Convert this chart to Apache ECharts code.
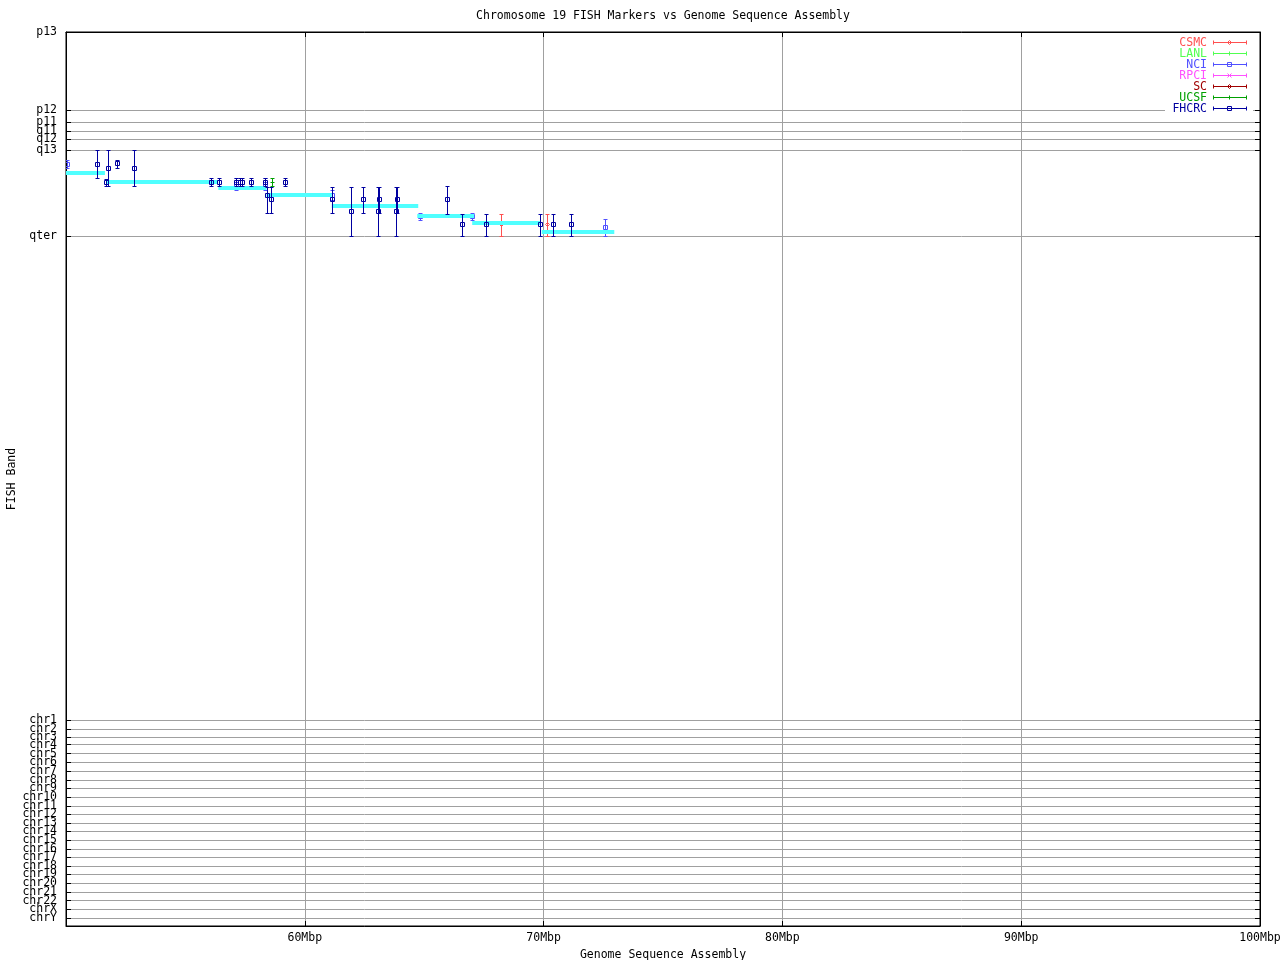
<!DOCTYPE html>
<html>
<head>
<meta charset="utf-8">
<script src="https://cdn.jsdelivr.net/npm/echarts@6/dist/echarts.min.js"></script>
<style>html,body{margin:0;padding:0;background:#fff}#chart{width:1280px;height:960px}</style>
</head>
<body>
<div id="chart"></div>
<script>
// ---------- data ----------
const titleText = 'Chromosome 19 FISH Markers vs Genome Sequence Assembly';
const xTickValues = [50, 60, 70, 80, 90, 100]; // Mbp
// FISH band axis: positions (arbitrary band units, 0 = p13 at top)
const bandLabels = ['p13','p12','p11','q11','q12','q13','qter',
  'chr1','chr2','chr3','chr4','chr5','chr6','chr7','chr8','chr9','chr10','chr11','chr12',
  'chr13','chr14','chr15','chr16','chr17','chr18','chr19','chr20','chr21','chr22','chrX','chrY'];
const bandPositions = [0,78,90,99,107,118,204,
  688.3,697.3,705,712.7,721.7,730.3,739,748.3,756.3,765,774,782.3,
  791.3,799.3,808.3,817,825,834,842.3,851.3,860.3,868.7,877.3,886];
const bandAxisMax = 894;

// sequence-assembly band segments (cyan)
const segStart = [50.0, 51.70, 56.38, 58.40, 61.13, 64.71, 67.01, 69.92];
const segEnd   = [51.63, 56.37, 58.40, 61.13, 64.75, 67.09, 69.85, 72.96];
const segBand  = [140.7, 149.7, 156, 162.7, 174, 184, 191, 200];

const institutions = ['CSMC','LANL','NCI','RPCI','SC','UCSF','FHCRC'];
const instColors   = ['#ff5050','#50ff50','#5050ff','#ff50ff','#a00000','#00a000','#0000a0'];
const instMarkers  = ['diamond','plus','square','cross','diamond','plus','square'];

// marker data per lab: position (Mbp), band, band low, band high
const csmcPos  = [68.23, 70.15];
const csmcBand = [192.3, 192.3];
const csmcLow  = [181.7, 181.7];
const csmcHigh = [204, 204];

const lanlPos = [], lanlBand = [], lanlLow = [], lanlHigh = [];

const nciPos  = [50.05, 57.12, 58.35, 61.15, 64.84, 66.99, 72.57];
const nciBand = [131.7, 152, 152, 163, 184.3, 184.3, 195];
const nciLow  = [127.7, 146.3, 146.3, 158, 181, 181, 187.3];
const nciHigh = [135.7, 158, 158, 168, 187.7, 187.7, 203.7];

const rpciPos = [], rpciBand = [], rpciLow = [], rpciHigh = [];
const scPos = [], scBand = [], scLow = [], scHigh = [];

const ucsfPos  = [58.64];
const ucsfBand = [149.7];
const ucsfLow  = [146.3];
const ucsfHigh = [153.7];

const fhcrcPos  = [51.31, 51.77, 51.69, 52.12, 52.86, 56.08, 56.42, 57.12, 57.27, 57.35, 57.76, 58.33, 59.18,
  58.43, 58.60, 61.15, 61.95, 62.45, 63.09, 63.07, 63.85, 63.82, 65.97, 66.60, 67.60, 69.86, 70.40, 71.16];
const fhcrcBand = [132, 136, 149.7, 131, 136, 149.7, 149.7, 149.7, 149.7, 149.7, 149.7, 149.7, 149.7,
  163.3, 167.3, 167, 179, 167, 167, 179, 167, 179, 167.3, 192.3, 192.3, 192.3, 192.3, 192.3];
const fhcrcLow  = [118.3, 118.3, 146.7, 127.7, 118.3, 146.3, 146.3, 146.3, 146.3, 146.3, 146.3, 146.3, 146.3,
  154.7, 154.7, 154.7, 154.7, 154.7, 154.7, 154.7, 154.7, 154.7, 154.3, 181.7, 181.7, 181.7, 181.7, 181.7];
const fhcrcHigh = [146, 154.3, 154.3, 136, 154.3, 153.7, 153.7, 153.7, 153.7, 153.7, 153.7, 153.7, 153.7,
  181.3, 181.3, 181.3, 203.7, 181.3, 181.3, 203.7, 181.3, 203.7, 181.7, 204, 204, 204, 204, 204];

const labData = {
  CSMC: [csmcPos, csmcBand, csmcLow, csmcHigh],
  LANL: [lanlPos, lanlBand, lanlLow, lanlHigh],
  NCI: [nciPos, nciBand, nciLow, nciHigh],
  RPCI: [rpciPos, rpciBand, rpciLow, rpciHigh],
  SC: [scPos, scBand, scLow, scHigh],
  UCSF: [ucsfPos, ucsfBand, ucsfLow, ucsfHigh],
  FHCRC: [fhcrcPos, fhcrcBand, fhcrcLow, fhcrcHigh]
};

// ---------- rendering ----------
const FONT = 'DejaVu Sans Mono';
const FS = 11.5;
const snap = v => Math.round(v) + 0.5;

function markerShapes(kind, cx, cy, color) {
  const st = {stroke: color, lineWidth: 1, fill: null};
  const L = (x1, y1, x2, y2) => ({type: 'line', shape: {x1, y1, x2, y2}, style: st});
  if (kind === 'square') return [{type: 'rect', shape: {x: cx - 2, y: cy - 2, width: 4, height: 4}, style: st}];
  if (kind === 'diamond') return [{type: 'polygon', shape: {points: [[cx, cy - 2], [cx + 2, cy], [cx, cy + 2], [cx - 2, cy]]}, style: st}];
  if (kind === 'plus') return [L(cx - 2, cy, cx + 2, cy), L(cx, cy - 2, cx, cy + 2)];
  if (kind === 'cross') return [L(cx - 2, cy - 2, cx + 2, cy + 2), L(cx - 2, cy + 2, cx + 2, cy - 2)];
  return [];
}

function labSeries(idx) {
  const name = institutions[idx], color = instColors[idx], kind = instMarkers[idx];
  const [xs, ys, lo, hi] = labData[name];
  const data = xs.map((x, i) => [x, ys[i], lo[i], hi[i]]);
  return {
    type: 'custom', name, data, clip: true,
    encode: {x: 0, y: 1},
    renderItem: (params, api) => {
      const p = api.coord([api.value(0), api.value(1)]);
      const pl = api.coord([api.value(0), api.value(2)]);
      const ph = api.coord([api.value(0), api.value(3)]);
      const cx = snap(p[0]), cy = snap(p[1]), y1 = snap(pl[1]), y2 = snap(ph[1]);
      const st = {stroke: color, lineWidth: 1};
      const children = [
        {type: 'line', shape: {x1: cx, y1: y1, x2: cx, y2: y2}, style: st},
        {type: 'line', shape: {x1: cx - 2, y1: y1, x2: cx + 2, y2: y1}, style: st},
        {type: 'line', shape: {x1: cx - 2, y1: y2, x2: cx + 2, y2: y2}, style: st}
      ].concat(markerShapes(kind, cx, cy, color));
      return {type: 'group', children};
    }
  };
}

const bandSeries = {
  type: 'custom', name: 'assembly', clip: true,
  data: segStart.map((s, i) => [s, segBand[i], segEnd[i]]),
  encode: {x: 0, y: 1},
  renderItem: (params, api) => {
    const a = api.coord([api.value(0), api.value(1)]);
    const b = api.coord([api.value(2), api.value(1)]);
    const y = Math.round(a[1]);
    return {type: 'line', shape: {x1: a[0], y1: y, x2: b[0], y2: y},
      style: {stroke: '#50ffff', lineWidth: 4, lineCap: 'butt'}};
  }
};

const series = [];
for (let i = 0; i < institutions.length - 1; i++) series.push(labSeries(i));
series.push(bandSeries);
series.push(labSeries(institutions.length - 1));

// legend drawn as graphic
const legendEls = [{type: 'rect', shape: {x: 1165, y: 37, width: 88, height: 77}, style: {fill: '#fff'}, z: 50}];
institutions.forEach((name, i) => {
  const y = snap(42.7 + i * 10.95 - 0.5);
  const color = instColors[i];
  const st = {stroke: color, lineWidth: 1};
  legendEls.push({type: 'text', x: 1207, y: y + 0.5, z: 51,
    style: {text: name, fill: color, font: FS + 'px "' + FONT + '"', textAlign: 'right', textVerticalAlign: 'middle'}});
  const x1 = 1213.5, x2 = 1246.5, mx = 1229.5;
  legendEls.push({type: 'line', z: 51, shape: {x1, y1: y, x2, y2: y}, style: st});
  legendEls.push({type: 'line', z: 51, shape: {x1, y1: y - 2, x2: x1, y2: y + 2}, style: st});
  legendEls.push({type: 'line', z: 51, shape: {x1: x2, y1: y - 2, x2: x2, y2: y + 2}, style: st});
  markerShapes(instMarkers[i], mx, y, color).forEach(s => { s.z = 51; legendEls.push(s); });
});
legendEls.push({type: 'text', x: 663, y: 16,
  style: {text: titleText, fill: '#000', font: FS + 'px "' + FONT + '"', textAlign: 'center', textVerticalAlign: 'middle'}});

const labelFor = v => { const i = bandPositions.indexOf(v); return i >= 0 ? bandLabels[i] : ''; };
const txt = {fontFamily: FONT, fontSize: FS, color: '#000'};
// labels: band positions plus an empty sentinel at the axis end (absorbs the max-label overlap check)
const labelValues = bandPositions.concat([bandAxisMax]);

const option = {
  backgroundColor: '#fff',
  animation: false,
  grid: {left: 66, right: 20, top: 32, bottom: 34, containLabel: false, outerBoundsMode: 'none',
    show: true, borderColor: '#000', borderWidth: 1, backgroundColor: '#fff'},
  xAxis: [{
    type: 'value', position: 'bottom', min: 50, max: 100, interval: 10,
    axisLine: {show: true, onZero: false, lineStyle: {color: '#000'}},
    axisTick: {show: true, inside: true, length: 5, lineStyle: {color: '#000'}},
    axisLabel: Object.assign({formatter: v => v + 'Mbp', showMinLabel: false, margin: 6}, txt),
    splitLine: {show: true, lineStyle: {color: '#a0a0a0'}},
    name: 'Genome Sequence Assembly', nameLocation: 'middle', nameGap: 23, nameTextStyle: txt
  }, {
    type: 'value', position: 'top', min: 50, max: 100, interval: 10,
    axisLine: {show: true, onZero: false, lineStyle: {color: '#000'}},
    axisTick: {show: true, inside: true, length: 5, lineStyle: {color: '#000'}},
    axisLabel: {show: false}, splitLine: {show: false}
  }],
  yAxis: [{
    type: 'value', position: 'left', inverse: true, min: 0, max: bandAxisMax,
    axisLine: {show: true, onZero: false, lineStyle: {color: '#000'}},
    axisTick: {show: true, inside: true, length: 5, customValues: bandPositions, lineStyle: {color: '#000'}},
    axisLabel: Object.assign({customValues: labelValues, formatter: labelFor, margin: 9, lineHeight: 8,
      padding: [3, 0, 0, 0], hideOverlap: false, showMinLabel: true, showMaxLabel: false}, txt),
    splitLine: {show: true, lineStyle: {color: '#a0a0a0'}},
    name: 'FISH Band', nameLocation: 'middle', nameGap: 48, nameRotate: 90, nameMoveOverlap: false,
    nameTextStyle: txt
  }, {
    type: 'value', position: 'right', inverse: true, min: 0, max: bandAxisMax,
    axisLine: {show: true, onZero: false, lineStyle: {color: '#000'}},
    axisTick: {show: true, inside: true, length: 5, customValues: bandPositions, lineStyle: {color: '#000'}},
    axisLabel: {show: false, customValues: bandPositions}, splitLine: {show: false}
  }],
  graphic: legendEls,
  series: series
};

const chart = echarts.init(document.getElementById('chart'), null, {renderer: 'canvas'});
chart.setOption(option);
</script>
</body>
</html>
